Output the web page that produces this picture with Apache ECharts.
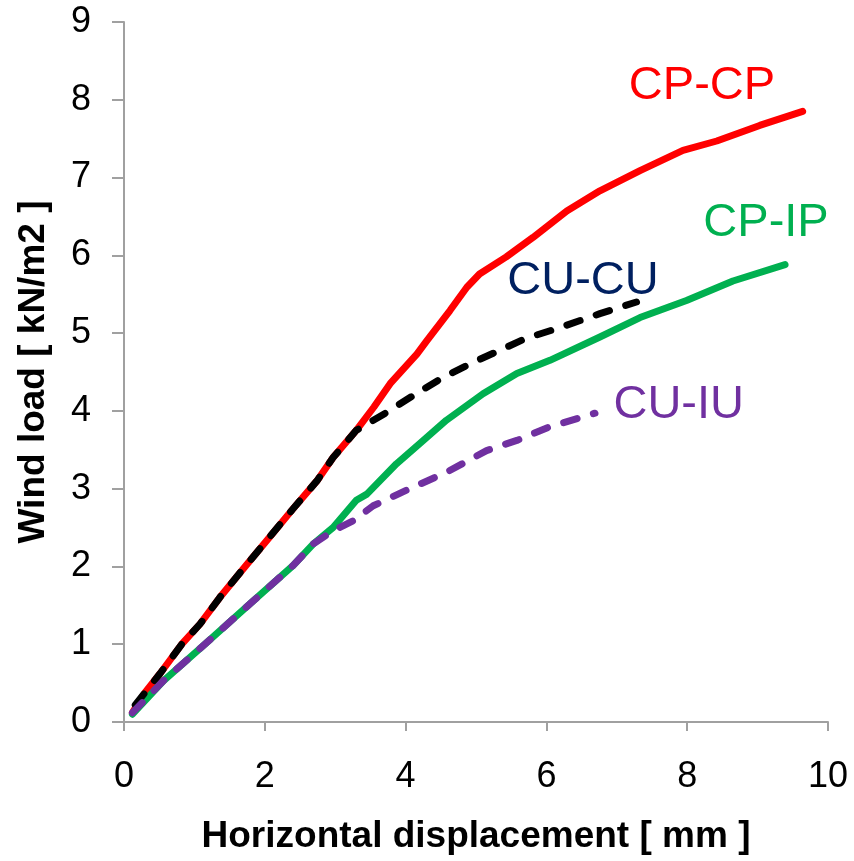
<!DOCTYPE html>
<html>
<head>
<meta charset="utf-8">
<script src="https://cdn.jsdelivr.net/npm/echarts@6/dist/echarts.min.js"></script>
<style>html,body{margin:0;padding:0;background:#fff}#c{width:854px;height:861px}</style>
</head>
<body>
<div id="c"></div>
<script>
// Data: [horizontal displacement (mm), wind load (kN/m2)]
const cpcp = [[0.12,0.12],[0.3,0.38],[0.51,0.62],[0.82,1.0],[1.08,1.26],[1.36,1.6],[1.73,2.01],[2.07,2.38],[2.4,2.74],[2.74,3.1],[2.97,3.4],[3.3,3.75],[3.55,4.05],[3.78,4.35],[4.16,4.73],[4.3,4.9],[4.63,5.29],[4.87,5.59],[5.05,5.76],[5.43,5.98],[5.81,6.23],[6.29,6.57],[6.76,6.83],[7.33,7.09],[7.94,7.35],[8.42,7.47],[9.03,7.67],[9.64,7.85]];
const cpip = [[0.12,0.1],[0.56,0.53],[1.15,1.0],[1.84,1.56],[2.4,2.01],[2.69,2.29],[2.97,2.5],[3.3,2.85],[3.45,2.93],[3.87,3.32],[4.2,3.58],[4.58,3.88],[5.1,4.22],[5.58,4.48],[6.05,4.65],[6.76,4.95],[7.33,5.2],[7.99,5.42],[8.65,5.67],[9.39,5.88]];
const cucu = [[0.16,0.22],[0.51,0.62],[0.82,1.0],[1.08,1.26],[1.36,1.6],[1.73,2.01],[2.07,2.38],[2.4,2.74],[2.74,3.1],[2.97,3.4],[3.3,3.75],[3.73,3.98],[4.13,4.21],[4.53,4.43],[4.95,4.62],[5.34,4.78],[5.7,4.93],[6.19,5.07],[6.76,5.25],[7.28,5.4]];
const cuiu = [[0.12,0.12],[0.56,0.53],[1.15,1.0],[1.84,1.56],[2.4,2.01],[2.69,2.29],[2.97,2.46],[3.26,2.59],[3.54,2.78],[4.06,3.0],[4.58,3.21],[5.15,3.49],[5.58,3.62],[6.03,3.79],[6.69,3.97]];

const seriesNames = ['CP-CP','CP-IP','CU-CU','CU-IU'];
// label anchor positions in data units
const labelPos = [[8.21,8.18],[9.12,6.42],[6.52,5.67],[7.88,4.08]];
const xTicks = {min:0, max:10, interval:2};
const yTicks = {min:0, max:9, interval:1};

const colors = ['#ff0000','#00b050','#000000','#7030a0'];
const labelColors = ['#ff0000','#00b050','#002060','#7030a0'];
const dashed = [false,false,true,true];
const dataSets = [cpcp, cpip, cucu, cuiu];
const FONT = '"Liberation Sans", Arial, sans-serif';

const chart = echarts.init(document.getElementById('c'), null, {renderer:'canvas'});
chart.setOption({
  animation:false,
  backgroundColor:'#fff',
  grid:{left:124, right:26, top:22, bottom:139, containLabel:false, outerBoundsMode:'none'},
  xAxis:{
    type:'value', min:xTicks.min, max:xTicks.max, interval:xTicks.interval,
    name:'Horizontal displacement [ mm ]', nameLocation:'middle', nameGap:96,
    nameTextStyle:{fontFamily:FONT, fontSize:37, fontWeight:'bold', color:'#000'},
    axisLine:{show:true, onZero:false, lineStyle:{color:'#a0a0a0', width:2}},
    axisTick:{show:true, inside:false, length:9, lineStyle:{color:'#a0a0a0', width:2}},
    axisLabel:{fontFamily:FONT, fontSize:36, color:'#000', margin:37},
    splitLine:{show:false}
  },
  yAxis:{
    type:'value', min:yTicks.min, max:yTicks.max, interval:yTicks.interval,
    name:'Wind load [ kN/m2 ]', nameLocation:'middle', nameGap:72,
    nameTextStyle:{fontFamily:FONT, fontSize:37, fontWeight:'bold', color:'#000'},
    axisLine:{show:true, onZero:false, lineStyle:{color:'#a0a0a0', width:2}},
    axisTick:{show:true, inside:false, length:12, lineStyle:{color:'#a0a0a0', width:2}},
    axisLabel:{fontFamily:FONT, fontSize:36, color:'#000', margin:33},
    splitLine:{show:false}
  },
  series: dataSets.map((d,i)=>({
    name: seriesNames[i],
    type:'line',
    data:d,
    showSymbol:false,
    symbol:'none',
    smooth:false,
    lineStyle:{color:colors[i], width:7, type: dashed[i] ? [14,17] : 'solid', cap:'round', join:'round'},
    z: 2+i,
    markPoint:{
      symbol:'circle', symbolSize:0,
      itemStyle:{color:'rgba(0,0,0,0)'},
      label:{show:true, position:'inside', formatter:seriesNames[i], fontFamily:FONT, fontSize:47, color:labelColors[i]},
      data:[{coord:labelPos[i], value:seriesNames[i]}]
    }
  }))
});
</script>
</body>
</html>
